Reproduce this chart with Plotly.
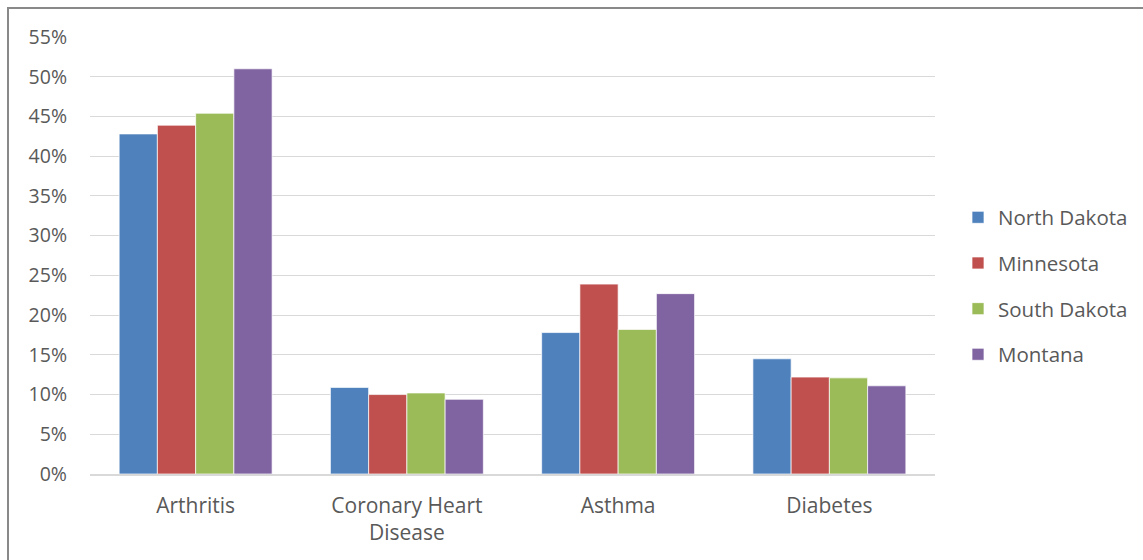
import plotly.graph_objects as go

categories = ["Arthritis", "Coronary Heart<br>Disease", "Asthma", "Diabetes"]
states = ["North Dakota", "Minnesota", "South Dakota", "Montana"]
north_dakota = [42.8, 10.9, 17.8, 14.5]
minnesota = [43.9, 10.0, 23.9, 12.2]
south_dakota = [45.4, 10.2, 18.2, 12.1]
montana = [51.0, 9.4, 22.7, 11.1]
colors = ["#4F81BD", "#C0504D", "#9BBB59", "#8064A2"]
y_ticks = list(range(0, 60, 5))
y_tick_labels = [f"{v}%" for v in y_ticks]

W, H = 1143, 560
L, R, T, B = 90, 208, 37, 86
pw, ph = W - L - R, H - T - B

fig = go.Figure()
for name, vals, col in zip(states, [north_dakota, minnesota, south_dakota, montana], colors):
    fig.add_trace(go.Bar(
        x=categories, y=vals, name=name, legendgroup=name,
        marker=dict(color=col, line=dict(color="rgba(255,255,255,0.7)", width=1)),
        hovertemplate="%{y}%<extra>" + name + "</extra>",
    ))

font = dict(family="Open Sans, Noto Sans, sans-serif", size=18, color="#595959")
xfont = dict(font, size=21)
yfont = dict(font, size=19.5)
legend_font = dict(font, size=20.5)

fig.update_layout(
    width=W, height=H,
    margin=dict(l=L, r=R, t=T, b=B, pad=0, autoexpand=False),
    paper_bgcolor="white", plot_bgcolor="white",
    barmode="group", bargap=0.276, bargroupgap=0,
    font=font,
    showlegend=True,
    legend=dict(
        x=(958 - L) / pw, xanchor="left",
        y=0.5 + (T + ph / 2 - 286) / ph, yanchor="middle",
        font=legend_font, traceorder="grouped", tracegroupgap=16,
        bgcolor="rgba(0,0,0,0)",
    ),
    xaxis=dict(
        showgrid=False, showline=True, linecolor="#D9D9D9", linewidth=1.5,
        ticks="", ticklabelstandoff=12, tickfont=xfont,
    ),
    yaxis=dict(
        range=[0, 55], tickmode="array", tickvals=y_ticks, ticktext=y_tick_labels,
        showgrid=True, gridcolor="#D9D9D9", gridwidth=1.3,
        zeroline=False, showline=False, ticks="",
        ticklabelstandoff=22, tickfont=yfont,
    ),
    shapes=[dict(
        type="rect", xref="paper", yref="paper",
        x0=(8 - L) / pw, x1=(W + 20 - L) / pw,
        y0=-(H + 20 - T - ph) / ph, y1=1 + (T - 8) / ph,
        line=dict(color="#898989", width=2), fillcolor="rgba(0,0,0,0)", layer="above",
    )],
)

fig.write_html("out.html")
